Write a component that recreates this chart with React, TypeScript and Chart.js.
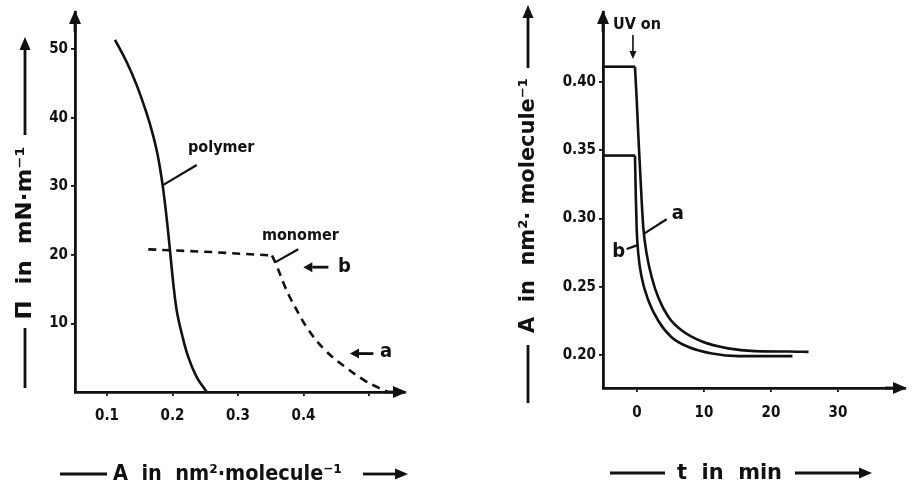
import React, { useEffect, useRef } from "react";
import { Chart, registerables } from "chart.js";

Chart.register(...registerables);

// ---------- Left panel: surface pressure vs. area ----------
const polymerArea = [0.1122, 0.1298, 0.145, 0.1595, 0.1687, 0.1771, 0.1847, 0.1898, 0.1936, 0.1962, 0.2012, 0.2064, 0.214, 0.2241, 0.2369, 0.2522];
const polymerPressure = [51.34, 48.15, 44.81, 40.9, 38.0, 34.66, 30.31, 26.4, 23.06, 20.59, 15.81, 11.89, 8.56, 5.08, 2.18, 0];

const monomerPlateauArea = [0.163, 0.26, 0.352];
const monomerPlateauPressure = [20.8, 20.4, 19.9];
const monomerRiseArea = [0.352, 0.36, 0.372, 0.387, 0.408, 0.433, 0.463, 0.493, 0.515, 0.529];
const monomerRisePressure = [19.9, 18.2, 15.3, 12.4, 9.0, 6.1, 3.7, 1.7, 0.6, 0];

const leftXTicks = [0.1, 0.2, 0.3, 0.4, 0.5];
const leftXTickLabels = ["0.1", "0.2", "0.3", "0.4", ""];
const leftYTicks = [10, 20, 30, 40, 50];
const leftYTickLabels = ["10", "20", "30", "40", "50"];

// ---------- Right panel: area vs. time ----------
const plateauTimeA = [-5.07, -0.3];
const plateauAreaA = [0.411, 0.411];
const decayTimeA = [-0.3, -0.05, 0.2, 0.45, 0.7, 0.95, 1.45, 2.2, 3.2, 4.7, 6.7, 9.7, 13.6, 17.6, 22.6, 25.6];
const decayAreaA = [0.411, 0.388, 0.361, 0.337, 0.313, 0.293, 0.274, 0.257, 0.242, 0.228, 0.218, 0.21, 0.205, 0.203, 0.2027, 0.2024];

const plateauTimeB = [-5.07, -0.3];
const plateauAreaB = [0.346, 0.346];
const decayTimeB = [-0.3, -0.2, -0.05, 0.2, 0.7, 1.7, 3.2, 5.2, 7.7, 11.2, 15.2, 20.2, 23.2];
const decayAreaB = [0.346, 0.322, 0.293, 0.274, 0.257, 0.24, 0.225, 0.213, 0.206, 0.2012, 0.1993, 0.1993, 0.1993];

const rightXTicks = [0, 10, 20, 30];
const rightXTickLabels = ["0", "10", "20", "30"];
const rightYTicks = [0.2, 0.25, 0.3, 0.35, 0.4];
const rightYTickLabels = ["0.20", "0.25", "0.30", "0.35", "0.40"];

const INK = "#111";
const FAMILY = "'DejaVu Sans Condensed', 'DejaVu Sans', sans-serif";

function pts(xs: number[], ys: number[]) {
  return xs.map((x, i) => ({ x, y: ys[i] }));
}

function labelFor(ticks: number[], labels: string[], v: number) {
  const i = ticks.findIndex((t) => Math.abs(t - v) < 1e-9);
  return i >= 0 ? labels[i] : "";
}

function arrow(ctx: CanvasRenderingContext2D, x1: number, y1: number, x2: number, y2: number, head: number, half: number, lw: number) {
  const ang = Math.atan2(y2 - y1, x2 - x1);
  const bx = x2 - Math.cos(ang) * head;
  const by = y2 - Math.sin(ang) * head;
  ctx.save();
  ctx.strokeStyle = INK;
  ctx.fillStyle = INK;
  ctx.lineWidth = lw;
  ctx.beginPath();
  ctx.moveTo(x1, y1);
  ctx.lineTo(bx, by);
  ctx.stroke();
  ctx.beginPath();
  ctx.moveTo(x2, y2);
  ctx.lineTo(bx + Math.sin(ang) * half, by - Math.cos(ang) * half);
  ctx.lineTo(bx - Math.sin(ang) * half, by + Math.cos(ang) * half);
  ctx.closePath();
  ctx.fill();
  ctx.restore();
}

function line(ctx: CanvasRenderingContext2D, x1: number, y1: number, x2: number, y2: number, lw: number) {
  ctx.save();
  ctx.strokeStyle = INK;
  ctx.lineWidth = lw;
  ctx.beginPath();
  ctx.moveTo(x1, y1);
  ctx.lineTo(x2, y2);
  ctx.stroke();
  ctx.restore();
}

function fitText(ctx: CanvasRenderingContext2D, text: string, cx: number, cy: number, width: number, size: number, rotate: boolean) {
  ctx.save();
  ctx.font = `bold ${size}px ${FAMILY}`;
  ctx.fillStyle = INK;
  const w = ctx.measureText(text).width;
  ctx.translate(cx, cy);
  if (rotate) ctx.rotate(-Math.PI / 2);
  ctx.scale(width / w, 1);
  ctx.textAlign = "center";
  ctx.textBaseline = "middle";
  ctx.fillText(text, 0, 0);
  ctx.restore();
}

function text(ctx: CanvasRenderingContext2D, s: string, x: number, y: number, size: number) {
  ctx.save();
  ctx.font = `bold ${size}px ${FAMILY}`;
  ctx.fillStyle = INK;
  ctx.textAlign = "left";
  ctx.textBaseline = "middle";
  ctx.fillText(s, x, y);
  ctx.restore();
}

const tickFont = { family: FAMILY, size: 15, weight: "bold" as const };

function axisOptions(min: number, max: number, ticks: number[], labels: string[], fit: (s: any) => void, padding: number) {
  return {
    type: "linear" as const,
    min,
    max,
    afterBuildTicks: (s: any) => {
      s.ticks = ticks.map((v) => ({ value: v }));
    },
    afterFit: fit,
    ticks: {
      autoSkip: false,
      maxRotation: 0,
      padding,
      color: INK,
      font: tickFont,
      callback: (v: any) => labelFor(ticks, labels, Number(v)),
    },
    grid: {
      display: true,
      drawOnChartArea: false,
      drawTicks: true,
      tickLength: 4,
      color: INK,
      lineWidth: 1.8,
    },
    border: { display: true, color: INK, width: 2.8 },
  };
}

const leftDecor = {
  id: "leftDecor",
  afterDraw(chart: any) {
    const ctx = chart.ctx as CanvasRenderingContext2D;
    const xs = chart.scales.x;
    const ys = chart.scales.y;
    const a = chart.chartArea;
    const px = (v: number) => xs.getPixelForValue(v);
    const py = (v: number) => ys.getPixelForValue(v);
    arrow(ctx, a.left, a.top + 20, a.left, a.top - 2, 14, 6, 2.8);
    arrow(ctx, a.right - 20, a.bottom, a.right + 2, a.bottom, 14, 6, 2.8);
    line(ctx, px(0.186), py(30.2), px(0.237), py(33.1), 2.2);
    text(ctx, "polymer", px(0.2237), py(35.6), 16);
    line(ctx, px(0.3565), py(18.9), px(0.392), py(20.8), 2.2);
    text(ctx, "monomer", px(0.3366), py(22.75), 16);
    arrow(ctx, px(0.438), py(18.2), px(0.3997), py(18.2), 9, 5, 2.8);
    text(ctx, "b", px(0.4527), py(18.3), 20);
    arrow(ctx, px(0.5066), py(5.6), px(0.471), py(5.6), 9, 5, 2.8);
    text(ctx, "a", px(0.517), py(5.9), 20);
    line(ctx, 25, 388, 25, 328, 2.8);
    fitText(ctx, "Π  in  mN·m⁻¹", 25, 233, 173, 22, true);
    arrow(ctx, 25, 135, 25, 37, 13, 5.5, 2.8);
    line(ctx, 60, 474, 107, 474, 2.8);
    fitText(ctx, "A  in  nm²·molecule⁻¹", 227.5, 474, 229, 22, false);
    arrow(ctx, 363, 474, 408, 474, 13, 5.5, 2.8);
  },
};

const rightDecor = {
  id: "rightDecor",
  afterDraw(chart: any) {
    const ctx = chart.ctx as CanvasRenderingContext2D;
    const xs = chart.scales.x;
    const ys = chart.scales.y;
    const a = chart.chartArea;
    const px = (v: number) => xs.getPixelForValue(v);
    const py = (v: number) => ys.getPixelForValue(v);
    arrow(ctx, a.left, a.top + 20, a.left, a.top - 2, 14, 6, 2.8);
    arrow(ctx, a.right - 20, a.bottom, a.right + 2, a.bottom, 14, 6, 2.8);
    text(ctx, "UV on", px(-3.58), py(0.4415), 16);
    arrow(ctx, px(-0.6), py(0.4342), px(-0.6), py(0.4167), 8, 3.5, 1.6);
    line(ctx, px(0.94), py(0.2885), px(4.43), py(0.2994), 2.2);
    text(ctx, "a", px(5.2), py(0.3033), 20);
    line(ctx, px(-1.54), py(0.2776), px(0.1), py(0.2805), 2.2);
    text(ctx, "b", px(-3.7), py(0.2756), 20);
    line(ctx, 71, 403, 71, 345, 2.8);
    fitText(ctx, "A  in  nm²· molecule⁻¹", 71, 205.5, 255, 22, true);
    arrow(ctx, 71, 68, 71, 5, 13, 5.5, 2.8);
    line(ctx, 153, 473, 208, 473, 2.8);
    fitText(ctx, "t  in  min", 272.5, 473, 105, 22, false);
    arrow(ctx, 338, 473, 415, 473, 13, 5.5, 2.8);
  },
};

function baseDataset(data: any[], dashed: boolean, mode: "straight" | "bezier" | "monotone") {
  return {
    data,
    borderColor: INK,
    borderWidth: 2.6,
    pointRadius: 0,
    fill: false,
    tension: mode === "bezier" ? 0.4 : 0,
    cubicInterpolationMode: mode === "monotone" ? ("monotone" as const) : ("default" as const),
    borderDash: dashed ? [8, 6] : [],
    borderCapStyle: "butt" as const,
  };
}

export default function App() {
  const leftRef = useRef<HTMLCanvasElement | null>(null);
  const rightRef = useRef<HTMLCanvasElement | null>(null);

  useEffect(() => {
    if (!leftRef.current || !rightRef.current) return;
    const left = new Chart(leftRef.current, {
      type: "line",
      data: {
        datasets: [
          baseDataset(pts(polymerArea, polymerPressure), false, "bezier"),
          baseDataset(pts(monomerPlateauArea, monomerPlateauPressure), true, "straight"),
          baseDataset(pts(monomerRiseArea, monomerRisePressure), true, "bezier"),
        ] as any,
      },
      options: {
        animation: false,
        responsive: false,
        events: [],
        layout: { padding: { left: 0, top: 10, right: 52, bottom: 0 } },
        plugins: { legend: { display: false }, tooltip: { enabled: false } },
        scales: {
          x: axisOptions(0.0511, 0.555, leftXTicks, leftXTickLabels, (s: any) => { s.height = 97; }, 11) as any,
          y: axisOptions(0, 55.4, leftYTicks, leftYTickLabels, (s: any) => { s.width = 75; }, 3) as any,
        },
      },
      plugins: [leftDecor],
    });

    const right = new Chart(rightRef.current, {
      type: "line",
      data: {
        datasets: [
          baseDataset(pts(plateauTimeA, plateauAreaA), false, "straight"),
          baseDataset(pts(decayTimeA, decayAreaA), false, "monotone"),
          baseDataset(pts(plateauTimeB, plateauAreaB), false, "straight"),
          baseDataset(pts(decayTimeB, decayAreaB), false, "monotone"),
        ] as any,
      },
      options: {
        animation: false,
        responsive: false,
        events: [],
        layout: { padding: { left: 0, top: 10, right: 10, bottom: 0 } },
        plugins: { legend: { display: false }, tooltip: { enabled: false } },
        scales: {
          x: axisOptions(-5.07, 40.0, rightXTicks, rightXTickLabels, (s: any) => { s.height = 101; }, 12) as any,
          y: axisOptions(0.176, 0.451, rightYTicks, rightYTickLabels, (s: any) => { s.width = 146; }, 3) as any,
        },
      },
      plugins: [rightDecor],
    });

    return () => {
      left.destroy();
      right.destroy();
    };
  }, []);

  return (
    <div style={{ position: "absolute", left: 0, top: 0, width: 915, height: 489, background: "#fff" }}>
      <canvas ref={leftRef} width={457} height={489} style={{ position: "absolute", left: 0, top: 0, width: 457, height: 489 }} />
      <canvas ref={rightRef} width={458} height={489} style={{ position: "absolute", left: 457, top: 0, width: 458, height: 489 }} />
    </div>
  );
}
